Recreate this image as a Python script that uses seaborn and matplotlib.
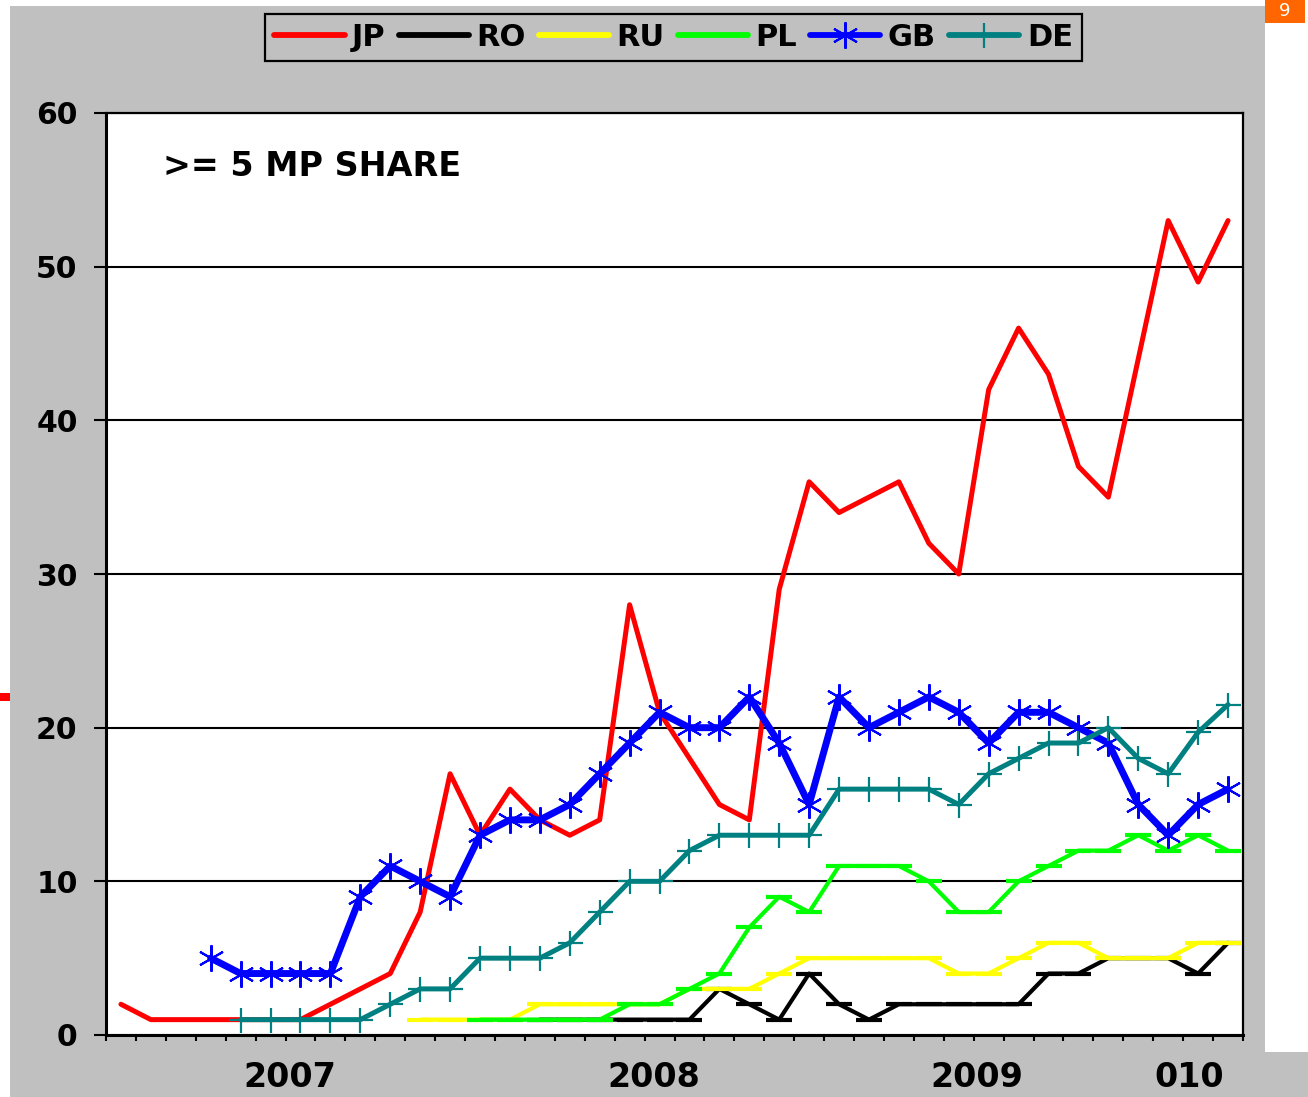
import matplotlib
matplotlib.use("Agg")
import numpy as np
import pandas as pd
import matplotlib.pyplot as plt
import seaborn as sns
from matplotlib.patches import Rectangle

# monthly periods on a category axis (38 points)
n_periods = 38
countries = ["JP", "RO", "RU", "PL", "GB", "DE"]

# first period index of each series and its values
jp_start = 0
jp = [2, 1, 1, 1, 1, 1, 1, 2, 3, 4, 8, 17, 13, 16, 14, 13, 14, 28, 21, 18,
      15, 14, 29, 36, 34, 35, 36, 32, 30, 42, 46, 43, 37, 35, 44, 53, 49, 53]
ro_start = 14
ro = [1, 1, 1, 1, 1, 1, 3, 2, 1, 4, 2, 1, 2, 2, 2, 2, 2, 4, 4, 5, 5, 5, 4, 6]
ru_start = 10
ru = [1, 1, 1, 1, 2, 2, 2, 2, 2, 3, 3, 3, 4, 5, 5, 5, 5, 5, 4, 4, 5, 6, 6,
      5, 5, 5, 6, 6]
pl_start = 12
pl = [1, 1, 1, 1, 1, 2, 2, 3, 4, 7, 9, 8, 11, 11, 11, 10, 8, 8, 10, 11, 12,
      12, 13, 12, 13, 12]
gb_start = 3
gb = [5, 4, 4, 4, 4, 9, 11, 10, 9, 13, 14, 14, 15, 17, 19, 21, 20, 20, 22, 19,
      15, 22, 20, 21, 22, 21, 19, 21, 21, 20, 19, 15, 13, 15, 16]
de_start = 4
de = [1, 1, 1, 1, 1, 2, 3, 3, 5, 5, 5, 6, 8, 10, 10, 12, 13, 13, 13, 13, 16,
      16, 16, 16, 15, 17, 18, 19, 19, 20, 18, 17, 19.7, 21.5]

year_labels = ["2007", "2008", "2009", "010"]
year_pos = [5.64, 17.8, 28.6, 35.7]

series = {"JP": (jp_start, jp), "RO": (ro_start, ro), "RU": (ru_start, ru),
          "PL": (pl_start, pl), "GB": (gb_start, gb), "DE": (de_start, de)}

rows = []
for c in countries:
    start, vals = series[c]
    for i, v in enumerate(vals):
        rows.append({"period": start + i, "country": c, "share": v})
df = pd.DataFrame(rows)

styles = {
    "JP": dict(color="#ff0000", lw=3.6, marker=None),
    "RO": dict(color="#000000", lw=3.0, marker="_", ms=19, mew=3.0),
    "RU": dict(color="#ffff00", lw=3.0, marker="_", ms=19, mew=3.0),
    "PL": dict(color="#00ff00", lw=3.0, marker="_", ms=19, mew=3.0),
    "GB": dict(color="#0000ff", lw=5.0, marker=(6, 2, 0), ms=19, mew=1.5),
    "DE": dict(color="#008080", lw=3.6, marker="+", ms=18, mew=1.6),
}

plt.rcParams["font.family"] = ["DejaVu Sans"]
plt.rcParams["font.weight"] = "bold"

W, H = 1308, 1097
fig = plt.figure(figsize=(W / 100, H / 100), dpi=100)
fig.patch.set_facecolor("white")

# slide background pieces
fig.patches.append(Rectangle((10 / W, 0), 1255 / W, 1 - 6 / H, transform=fig.transFigure,
                             facecolor="#c0c0c0", edgecolor="none", zorder=-10))
fig.patches.append(Rectangle((1265 / W, 0), 43 / W, 45 / H, transform=fig.transFigure,
                             facecolor="#c0c0c0", edgecolor="none", zorder=-10))
fig.patches.append(Rectangle((1265 / W, 1 - 23 / H), 40 / W, 23 / H, transform=fig.transFigure,
                             facecolor="#ff6600", edgecolor="none", zorder=-9))
fig.text(1285 / W, 1 - 11 / H, "9", color="white", fontsize=13, fontweight="normal",
         ha="center", va="center")
fig.patches.append(Rectangle((0, 1 - 701 / H), 10 / W, 8 / H, transform=fig.transFigure,
                             facecolor="#ff0000", edgecolor="none", zorder=-9))

ax = fig.add_axes([106 / W, 1 - 1035 / H, 1137 / W, 922 / H])
ax.set_facecolor("white")

for c in countries:
    st = styles[c]
    kw = dict(color=st["color"], linewidth=st["lw"], solid_capstyle="round")
    if st["marker"] is not None:
        kw.update(marker=st["marker"], markersize=st["ms"],
                  markeredgewidth=st["mew"], markeredgecolor=st["color"])
    sns.lineplot(data=df[df["country"] == c], x="period", y="share", ax=ax,
                 label=c, errorbar=None, **kw)

ax.set_xlim(-0.5, n_periods - 0.5)
ax.set_ylim(0, 60)
ax.set_yticks(np.arange(0, 61, 10))
ax.yaxis.grid(True, color="black", linewidth=1.5)
ax.xaxis.grid(False)
ax.set_axisbelow(True)
ax.set_xlabel("")
ax.set_ylabel("")

ax.set_xticks(year_pos)
ax.set_xticklabels(year_labels)
ax.set_xticks(np.arange(-0.5, n_periods, 1), minor=True)
ax.tick_params(axis="x", which="major", length=0, pad=19, labelsize=24)
ax.tick_params(axis="x", which="minor", length=4, width=1.5, direction="out")
ax.tick_params(axis="y", length=8.5, width=1.5, direction="out", labelsize=21.5, pad=12)
for lab in ax.get_xticklabels() + ax.get_yticklabels():
    lab.set_fontweight("bold")

for side in ["left", "bottom"]:
    ax.spines[side].set_linewidth(2.2)
for side in ["top", "right"]:
    ax.spines[side].set_linewidth(1.6)
for sp in ax.spines.values():
    sp.set_color("black")

ax.text(0.0501, 0.9425, ">= 5 MP SHARE", transform=ax.transAxes, fontsize=24,
        fontweight="bold", ha="left", va="center")

handles, labels = ax.get_legend_handles_labels()
if ax.get_legend() is not None:
    ax.get_legend().remove()
leg = fig.legend(handles, labels, loc="center", bbox_to_anchor=(673.5 / W, 1 - 37.5 / H),
                 ncol=6, prop={"weight": "bold", "size": 22}, handlelength=2.3,
                 handletextpad=0.25, columnspacing=0.42, borderpad=0.3,
                 fancybox=False, framealpha=1, facecolor="#c0c0c0", edgecolor="black")
leg.get_frame().set_linewidth(1.6)
for h in leg.legend_handles:
    h.set_linewidth(4.2)

fig.savefig("out.png", dpi=100, facecolor="white")
